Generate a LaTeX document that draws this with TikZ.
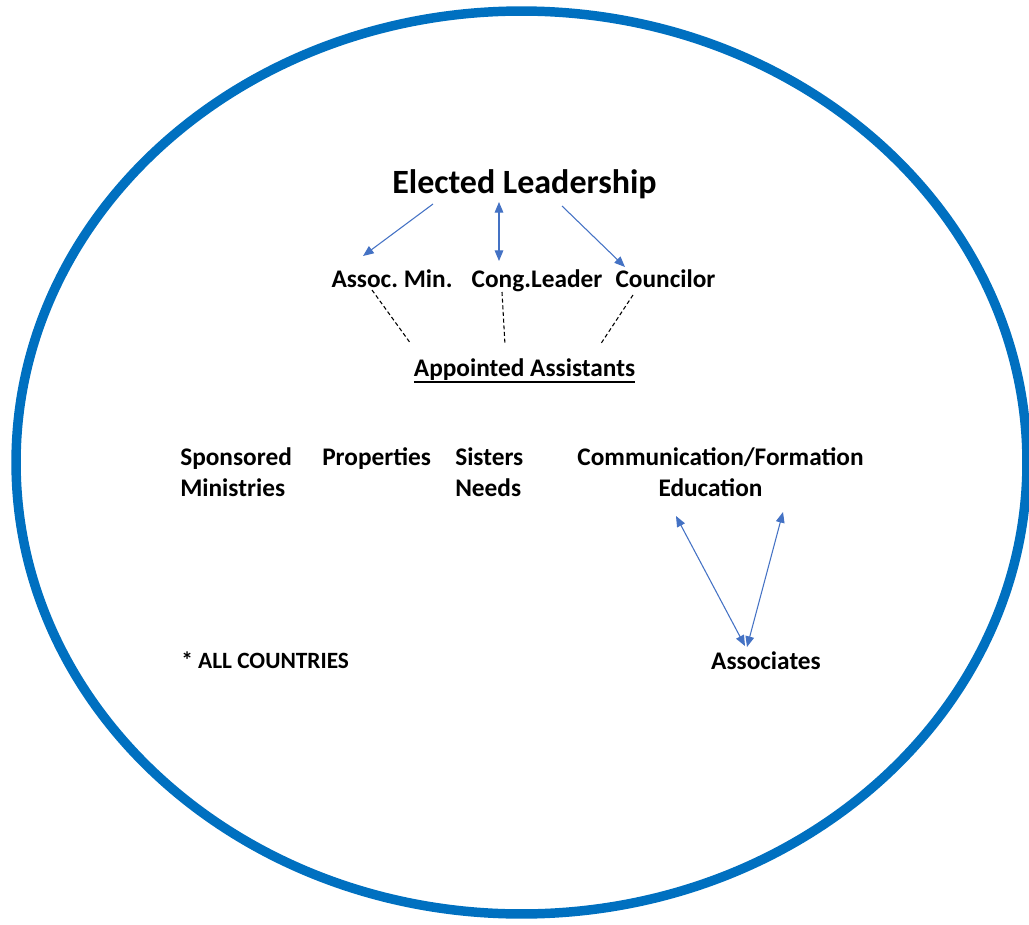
\documentclass[tikz,border=0pt]{standalone}
\usepackage{fontspec}
\setmainfont{Carlito}
\usetikzlibrary{arrows.meta}
\definecolor{ringblue}{HTML}{0070C0}
\definecolor{arrowblue}{HTML}{4472C4}
\newcommand{\thickul}[1]{\setbox0\hbox{#1}\rlap{\copy0}\rule[-5pt]{\wd0}{1.4pt}}
\frenchspacing
\begin{document}
\begin{tikzpicture}[x=0.75pt,y=-0.75pt,
  lbl/.style={font=\bfseries\fontsize{19}{23.25}\selectfont, inner sep=0pt},
  small/.style={font=\bfseries\fontsize{17.5}{21}\selectfont, inner sep=0pt},
  big/.style={font=\bfseries\fontsize{25.5}{30}\selectfont, inner sep=0pt},
  link/.style={draw=arrowblue, line width=0.8pt},
  onetip/.style={-{Triangle[length=8pt,width=6.5pt]}},
  twotips/.style={{Triangle[length=8pt,width=6.5pt]}-{Triangle[length=8pt,width=6.5pt]}},
  dashlink/.style={draw=black, line width=0.8pt, dash pattern=on 3pt off 2pt}]
\useasboundingbox (0,0) rectangle (1029,925);
\draw[ringblue, line width=7.1pt] (521.5,462.5) ellipse [x radius=379.1pt, y radius=338.6pt];

\node[big, anchor=base] (el) at (524.5,193) {Elected Leadership};
\node[lbl, anchor=base] (am) at (392,287) {Assoc. Min.};
\node[lbl, anchor=base] (cl) at (537,287) {Cong.Leader};
\node[lbl, anchor=base] (co) at (665.5,287) {Councilor};
\node[lbl, anchor=base] (aa) at (524.5,376) {\thickul{Appointed Assistants}};
\node[lbl, anchor=base west] (sm) at (180,465) {\begin{tabular}[t]{@{}l@{}}Sponsored\\Ministries\end{tabular}};
\node[lbl, anchor=base west] (pr) at (322,465) {Properties};
\node[lbl, anchor=base west] (sn) at (455,465) {\begin{tabular}[t]{@{}l@{}}Sisters\\Needs\end{tabular}};
\node[lbl, anchor=base] (cf) at (720.5,465) {\begin{tabular}[t]{@{}c@{}}Communication/Formation\\Education\hspace*{15pt}\end{tabular}};
\node[small, anchor=base west] (ac) at (181,668) {* ALL COUNTRIES};
\node[lbl, anchor=base] (as) at (766,669) {Associates};

\coordinate (a1s) at (433,204); \coordinate (a1e) at (363,256);
\coordinate (a2s) at (499,202); \coordinate (a2e) at (499,261);
\coordinate (a3s) at (562,206); \coordinate (a3e) at (625,267);
\draw[link,onetip] (a1s) -- (a1e);
\draw[link,twotips] (a2s) -- (a2e);
\draw[link,onetip] (a3s) -- (a3e);

\coordinate (d1s) at (372,290); \coordinate (d1e) at (411,344);
\coordinate (d2s) at (502,292); \coordinate (d2e) at (505,345);
\coordinate (d3s) at (633,295); \coordinate (d3e) at (600,345);
\draw[dashlink] (d1s) -- (d1e);
\draw[dashlink] (d2s) -- (d2e);
\draw[dashlink] (d3s) -- (d3e);

\coordinate (b1s) at (676,516); \coordinate (b1e) at (745,646);
\coordinate (b2s) at (783,512); \coordinate (b2e) at (747,647);
\draw[link,twotips] (b1s) -- (b1e);
\draw[link,twotips] (b2s) -- (b2e);
\end{tikzpicture}
\end{document}
